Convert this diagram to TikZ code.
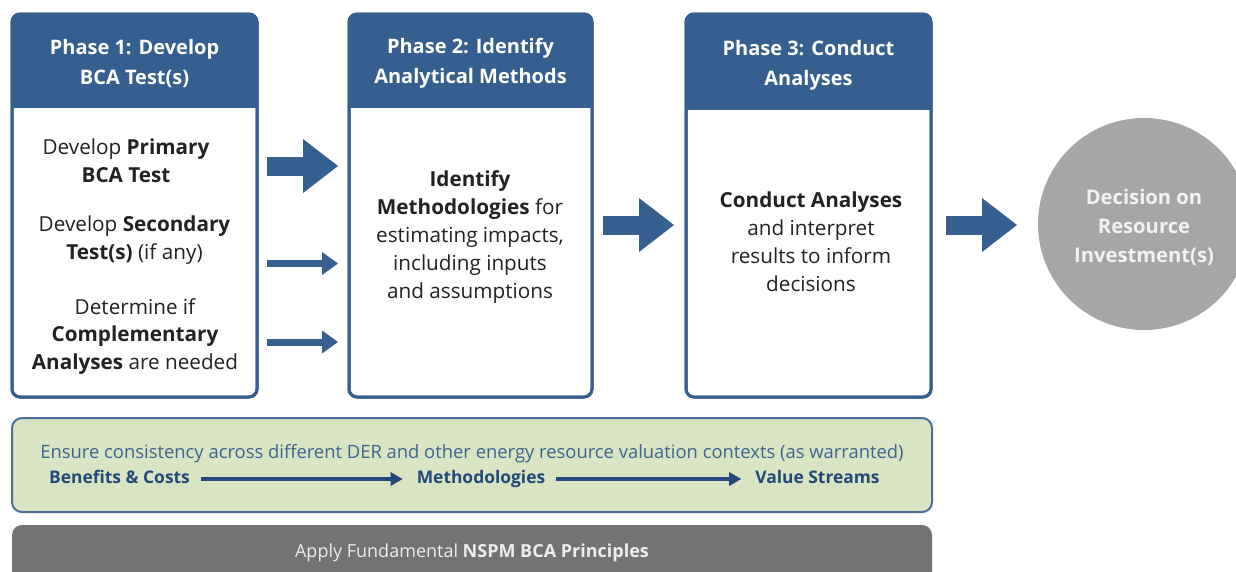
\documentclass[tikz,border=0pt]{standalone}
\usepackage{fontspec}
\setmainfont{Open Sans}
\usetikzlibrary{arrows.meta}
\definecolor{hblue}{HTML}{355F8F}
\definecolor{ablue}{HTML}{35608F}
\definecolor{gfill}{HTML}{D9E4C2}
\definecolor{gline}{HTML}{4A6E98}
\definecolor{gtext}{HTML}{3E6590}
\definecolor{gdark}{HTML}{23497B}
\definecolor{gbar}{HTML}{737373}
\definecolor{circ}{HTML}{A6A6A6}
\definecolor{bodytxt}{HTML}{222222}
\tikzset{
  phasebox/.style={draw=hblue, line width=3pt, rounded corners=8pt, fill=white, outer sep=0pt, inner sep=0pt},
  hdrtext/.style={text=white, align=center, font=\fontsize{20}{30}\selectfont\bfseries},
  bodytext/.style={text=bodytxt, align=center, font=\fontsize{20.7}{27.9}\selectfont},
  bigarrow/.style={draw=ablue, line width=19pt, -{Triangle[length=35pt,width=54pt,line width=0pt]}},
  smallarrow/.style={draw=ablue, line width=7pt, -{Triangle[length=16pt,width=23pt,line width=0pt]}},
  gbox/.style={draw=gline, line width=2pt, fill=gfill, rounded corners=10pt, outer sep=0pt},
  gline1/.style={text=gtext, font=\fontsize{18.4}{20}\selectfont},
  gbold/.style={text=gdark, font=\fontsize{17.4}{20}\selectfont\bfseries, inner sep=0pt, text height=12.5pt, text depth=4pt},
  garrow/.style={draw=gdark, line width=4pt, -{Triangle[length=12pt,width=14pt,line width=0pt]}},
  barbox/.style={fill=gbar, rounded corners=10pt, outer sep=0pt},
  bartext/.style={text=white!93!black, font=\fontsize{18}{20}\selectfont},
  decision/.style={circle, fill=circ, minimum size=212pt, inner sep=0pt},
  dectext/.style={text=white!95!black, align=center, font=\fontsize{20.2}{29}\selectfont\bfseries}
}
\begin{document}
\begin{tikzpicture}[x=1pt,y=-1pt]
\useasboundingbox (0,0) rectangle (1236,571);
\clip (0,0) rectangle (1236,571);

% ---------- phase boxes ----------
\node[phasebox, minimum width=245pt, minimum height=383pt] (p1) at (134.5,205.5) {};
\node[phasebox, minimum width=243pt, minimum height=383pt] (p2) at (470.5,205.5) {};
\node[phasebox, minimum width=245pt, minimum height=383pt] (p3) at (808.5,205.5) {};

\foreach \p/\hb in {p1/108, p2/108, p3/110}{
  \begin{scope}
    \clip[rounded corners=8pt] (\p.north west) rectangle (\p.south east);
    \fill[hblue] (\p.north west) rectangle (\p.east |- 0,\hb);
  \end{scope}
  \draw[hblue, line width=3pt, rounded corners=8pt] (\p.north west) rectangle (\p.south east);
}

% headers
\node[hdrtext] (h1) at (134.5,63.5) {Phase 1: Develop\\BCA Test(s)};
\node[hdrtext] (h2) at (470.5,63) {Phase 2: Identify\\Analytical Methods};
\node[hdrtext] (h3) at (808.5,65) {Phase 3: Conduct\\Analyses};

% phase 1 body
\node[bodytext] (t1a) at (126,161) {Develop \textbf{Primary}\\\textbf{BCA Test}};
\node[bodytext] (t1b) at (134.5,240) {Develop \textbf{Secondary}\\\textbf{Test(s)} (if any)};
\node[bodytext] (t1c) at (135,336.5) {Determine if\\\textbf{Complementary}\\\textbf{Analyses} are needed};

% phase 2 body
\node[bodytext] (t2) at (470,237) {\textbf{Identify}\\\textbf{Methodologies} for\\estimating impacts,\\including inputs\\and assumptions};

% phase 3 body
\node[bodytext] (t3) at (811,242) {\textbf{Conduct Analyses}\\and interpret\\results to inform\\decisions};

% decision circle
\node[decision] (dec) at (1144,224) {};
\node[dectext] (dect) at (dec.center) [yshift=-3.5pt] {Decision on\\Resource\\Investment(s)};

% ---------- block arrows ----------
\coordinate (a1s) at (267,166);   \coordinate (a1e) at (338,166);
\coordinate (a2s) at (267,263.5); \coordinate (a2e) at (338,263.5);
\coordinate (a3s) at (267,342);   \coordinate (a3e) at (338,342);
\coordinate (a4s) at (603,225);   \coordinate (a4e) at (674,225);
\coordinate (a5s) at (946,225);   \coordinate (a5e) at (1017,225);
\draw[bigarrow] (a1s) -- (a1e);
\draw[smallarrow] (a2s) -- (a2e);
\draw[smallarrow] (a3s) -- (a3e);
\draw[bigarrow] (a4s) -- (a4e);
\draw[bigarrow] (a5s) -- (a5e);

% ---------- consistency band ----------
\node[gbox, minimum width=920pt, minimum height=94pt] (gb) at (472,465) {};
\node[gline1] (gt) at (472,454) {Ensure consistency across different DER and other energy resource valuation contexts (as warranted)};
\node[gbold] (bc) at (119.5,479) {Benefits \& Costs};
\node[gbold] (me) at (481,479) {Methodologies};
\node[gbold] (vs) at (817.5,479) {Value Streams};
\draw[garrow, shorten <=11pt, shorten >=14pt] (bc) -- (me);
\draw[garrow, shorten <=11pt, shorten >=14pt] (me) -- (vs);

% ---------- principles bar ----------
\node[barbox, minimum width=920pt, minimum height=70pt] (bar) at (472,560) {};
\node[bartext] (bt) at (472,552.5) {Apply Fundamental \textbf{NSPM BCA Principles}};
\end{tikzpicture}
\end{document}
